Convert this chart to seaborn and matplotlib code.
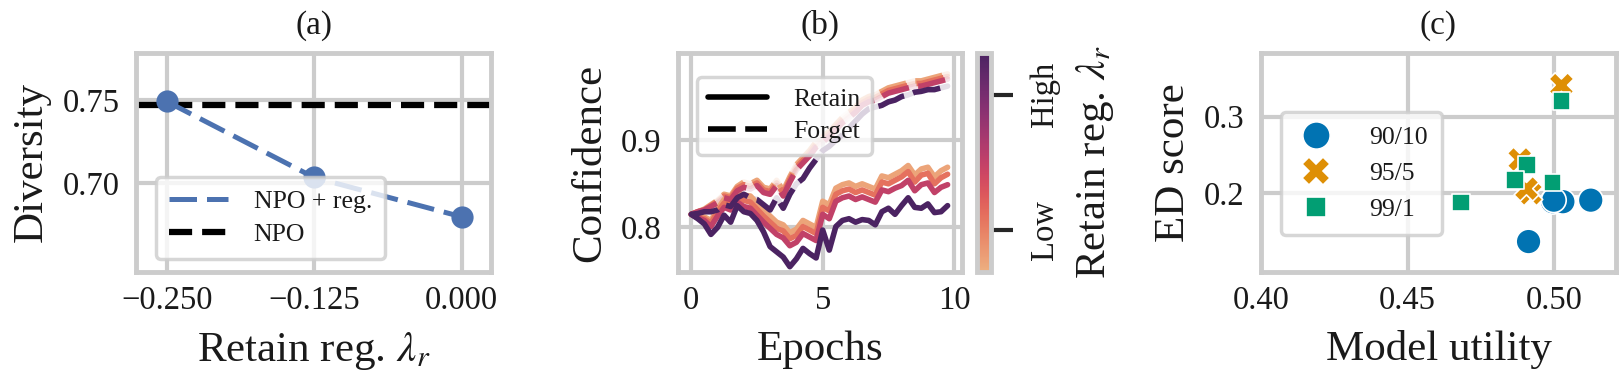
import numpy as np
import pandas as pd
import seaborn as sns
import matplotlib.pyplot as plt
from matplotlib.lines import Line2D
from matplotlib.cm import ScalarMappable
from matplotlib.colors import Normalize

### DATA
# (a) diversity vs retain regularisation
reg_lambda = [-0.250, -0.125, 0.000]
diversity_reg = [0.749, 0.7035, 0.680]
diversity_npo = 0.747

# (b) confidence over epochs, one curve per retain-reg strength
epochs = np.round(np.arange(40) * 0.25, 2)
strength = [0.05, 0.25, 0.5, 1.0]   # low ... high
retain_conf = {
    0.05: [0.815, 0.813, 0.812, 0.808, 0.821, 0.832, 0.831, 0.840, 0.837, 0.836,
           0.828, 0.820, 0.813, 0.806, 0.803, 0.794, 0.798, 0.808, 0.804, 0.800,
           0.830, 0.826, 0.845, 0.849, 0.851, 0.847, 0.850, 0.847, 0.844, 0.859,
           0.857, 0.861, 0.865, 0.871, 0.860, 0.867, 0.869, 0.858, 0.865, 0.869],
    0.25: [0.815, 0.812, 0.810, 0.805, 0.818, 0.828, 0.826, 0.835, 0.831, 0.829,
           0.821, 0.813, 0.806, 0.799, 0.796, 0.787, 0.791, 0.801, 0.797, 0.793,
           0.823, 0.819, 0.838, 0.842, 0.844, 0.840, 0.843, 0.840, 0.837, 0.852,
           0.850, 0.854, 0.858, 0.864, 0.852, 0.860, 0.862, 0.850, 0.857, 0.861],
    0.5:  [0.815, 0.811, 0.808, 0.801, 0.813, 0.823, 0.820, 0.829, 0.824, 0.822,
           0.814, 0.806, 0.799, 0.792, 0.788, 0.779, 0.783, 0.793, 0.789, 0.785,
           0.815, 0.810, 0.830, 0.834, 0.836, 0.832, 0.835, 0.832, 0.829, 0.843,
           0.841, 0.845, 0.848, 0.854, 0.842, 0.849, 0.851, 0.840, 0.846, 0.849],
    1.0:  [0.815, 0.810, 0.804, 0.792, 0.800, 0.814, 0.806, 0.825, 0.818, 0.816,
           0.808, 0.795, 0.778, 0.772, 0.766, 0.755, 0.764, 0.776, 0.770, 0.765,
           0.797, 0.774, 0.801, 0.808, 0.810, 0.806, 0.809, 0.808, 0.803, 0.818,
           0.822, 0.815, 0.825, 0.834, 0.823, 0.822, 0.827, 0.817, 0.818, 0.825],
}
forget_conf = {
    0.05: [0.815, 0.818, 0.821, 0.826, 0.831, 0.838, 0.836, 0.847, 0.852, 0.850,
           0.854, 0.846, 0.844, 0.854, 0.842, 0.858, 0.872, 0.880, 0.888, 0.898,
           0.904, 0.910, 0.918, 0.926, 0.932, 0.938, 0.946, 0.950, 0.952, 0.956,
           0.960, 0.962, 0.964, 0.966, 0.968, 0.968, 0.970, 0.972, 0.974, 0.976],
    0.25: [0.815, 0.818, 0.820, 0.825, 0.830, 0.836, 0.834, 0.845, 0.849, 0.847,
           0.851, 0.843, 0.841, 0.851, 0.839, 0.855, 0.869, 0.877, 0.885, 0.895,
           0.901, 0.907, 0.915, 0.923, 0.929, 0.935, 0.943, 0.947, 0.949, 0.953,
           0.957, 0.959, 0.961, 0.963, 0.965, 0.965, 0.967, 0.969, 0.971, 0.973],
    0.5:  [0.815, 0.818, 0.820, 0.824, 0.828, 0.834, 0.832, 0.842, 0.846, 0.844,
           0.848, 0.840, 0.838, 0.848, 0.836, 0.852, 0.866, 0.874, 0.882, 0.892,
           0.898, 0.904, 0.912, 0.920, 0.926, 0.932, 0.940, 0.944, 0.946, 0.950,
           0.954, 0.956, 0.958, 0.960, 0.962, 0.962, 0.964, 0.966, 0.968, 0.970],
    1.0:  [0.815, 0.816, 0.818, 0.818, 0.820, 0.826, 0.824, 0.834, 0.838, 0.834,
           0.832, 0.826, 0.820, 0.834, 0.822, 0.838, 0.850, 0.856, 0.868, 0.878,
           0.888, 0.893, 0.900, 0.906, 0.914, 0.922, 0.930, 0.936, 0.938, 0.940,
           0.944, 0.946, 0.950, 0.952, 0.955, 0.956, 0.958, 0.958, 0.960, 0.962],
}

# (c) ED score vs model utility per split
split_labels = ['90/10', '95/5', '99/1']
util_9010 = [0.4994, 0.5029, 0.5124, 0.4912, 0.4998]
ed_9010 = [0.189, 0.189, 0.191, 0.137, 0.191]
util_955 = [0.5024, 0.4882, 0.4918, 0.4905]
ed_955 = [0.341, 0.244, 0.200, 0.206]
util_991 = [0.5024, 0.4906, 0.4865, 0.4994, 0.4682]
ed_991 = [0.320, 0.237, 0.217, 0.214, 0.188]

### STYLE
sns.set_theme(style='whitegrid')
plt.rcParams['font.family'] = ['Liberation Serif', 'DejaVu Serif']
plt.rcParams['mathtext.fontset'] = 'stix'
plt.rcParams['axes.edgecolor'] = '.8'
plt.rcParams['axes.linewidth'] = 3.5
plt.rcParams['grid.color'] = '.8'
plt.rcParams['grid.linewidth'] = 3
plt.rcParams['legend.edgecolor'] = '.8'
plt.rcParams['patch.linewidth'] = 2.5
plt.rcParams['xtick.labelsize'] = 23.5
plt.rcParams['ytick.labelsize'] = 23.5
plt.rcParams['xtick.major.pad'] = 10
plt.rcParams['ytick.major.pad'] = 12
plt.rcParams['axes.labelsize'] = 31
plt.rcParams['axes.titlesize'] = 24
plt.rcParams['legend.fontsize'] = 18.5
plt.rcParams['text.color'] = '#1a1a1a'
plt.rcParams['axes.labelcolor'] = '#1a1a1a'
plt.rcParams['xtick.color'] = '#1a1a1a'
plt.rcParams['ytick.color'] = '#1a1a1a'

fig = plt.figure(figsize=(16.21, 3.73), dpi=100)
bottom, height = 0.271, 0.587
ax_a = fig.add_axes([0.0839, bottom, 0.219, height])
ax_b = fig.add_axes([0.4183, bottom, 0.1752, height])
cax = fig.add_axes([0.6027, bottom, 0.0087, height])
ax_c = fig.add_axes([0.7779, bottom, 0.219, height])

### (a)
blue = '#4c72b0'
sns.lineplot(x=reg_lambda, y=diversity_reg, ax=ax_a, color=blue, lw=3.6,
             marker='o', markersize=16, markeredgewidth=0, legend=False, zorder=3)
ax_a.lines[-1].set_dashes((5.5, 2.0))
ax_a.axhline(diversity_npo, color='black', lw=4.5, ls='--', zorder=2)
ax_a.set_xlim(-0.276, 0.025)
ax_a.set_ylim(0.647, 0.778)
ax_a.set_xticks(reg_lambda)
ax_a.set_xticklabels(['\u22120.250', '\u22120.125', '0.000'])
ax_a.set_yticks([0.70, 0.75])
ax_a.set_yticklabels(['0.70', '0.75'])
ax_a.set_xlabel(r'Retain reg. $\lambda_r$', labelpad=10)
ax_a.set_ylabel('Diversity', labelpad=8)
ax_a.set_title('(a)', pad=14)
handles_a = [Line2D([], [], color=blue, lw=3.6, dashes=(5.5, 2.0)),
             Line2D([], [], color='black', lw=4.5, ls='--')]
ax_a.legend(handles_a, ['NPO + reg.', 'NPO'], loc='lower left', bbox_to_anchor=(0.02, 0.0),
            handlelength=2.3, handletextpad=1.0, borderpad=0.5, labelspacing=0.4)

### (b)
rows = []
for s in strength:
    for e, r, f in zip(epochs, retain_conf[s], forget_conf[s]):
        rows.append({'epoch': e, 'conf': r, 'split': 'Retain', 'strength': s})
        rows.append({'epoch': e, 'conf': f, 'split': 'Forget', 'strength': s})
df_b = pd.DataFrame(rows)
forget_df = df_b[df_b['split'] == 'Forget']
sns.lineplot(data=forget_df, x='epoch', y='conf', hue='strength', palette='flare',
             hue_norm=(0, 1), lw=4, alpha=0.15, legend=False, ax=ax_b)
sns.lineplot(data=df_b, x='epoch', y='conf', hue='strength', style='split',
             palette='flare', hue_norm=(0, 1), dashes={'Retain': '', 'Forget': (5, 1.7)},
             lw=4, legend=False, ax=ax_b)
ax_b.set_xlim(-0.5, 10.3)
ax_b.set_ylim(0.749, 1.0)
ax_b.set_xticks([0, 5, 10])
ax_b.set_yticks([0.8, 0.9])
ax_b.set_yticklabels(['0.8', '0.9'])
ax_b.set_xlabel('Epochs', labelpad=10)
ax_b.set_ylabel('Confidence', labelpad=8)
ax_b.set_title('(b)', pad=14)
handles_b = [Line2D([], [], color='black', lw=4, solid_capstyle='round'),
             Line2D([], [], color='black', lw=4, dashes=(5, 1.7))]
ax_b.legend(handles_b, ['Retain', 'Forget'], loc='upper left', bbox_to_anchor=(0.02, 0.95),
            handlelength=2.3, handletextpad=1.0, borderpad=0.45, labelspacing=0.35)

sm = ScalarMappable(norm=Normalize(0, 1), cmap=sns.color_palette('flare', as_cmap=True))
cb = fig.colorbar(sm, cax=cax)
cb.outline.set_edgecolor('.8')
cb.outline.set_linewidth(3.5)
cb.set_ticks([0.19, 0.81])
cb.set_ticklabels(['Low', 'High'])
cax.tick_params(axis='y', right=True, length=16, width=3, color='#262626', pad=12,
                labelsize=23.5)
for t in cax.get_yticklabels():
    t.set_rotation(90)
    t.set_va('center')
cb.set_label(r'Retain reg. $\lambda_r$', labelpad=10)

### (c)
df_c = pd.DataFrame({
    'utility': util_9010 + util_955 + util_991,
    'ed': ed_9010 + ed_955 + ed_991,
    'split': ['90/10'] * len(util_9010) + ['95/5'] * len(util_955) + ['99/1'] * len(util_991),
})
sns.scatterplot(data=df_c, x='utility', y='ed', hue='split', style='split',
                hue_order=split_labels, style_order=split_labels,
                palette='colorblind', s=320, edgecolor='white', linewidth=1.2, ax=ax_c)
ax_c.set_xlim(0.40, 0.521)
ax_c.set_ylim(0.0974, 0.383)
ax_c.set_xticks([0.40, 0.45, 0.50])
ax_c.set_xticklabels(['0.40', '0.45', '0.50'])
ax_c.set_yticks([0.2, 0.3])
ax_c.set_yticklabels(['0.2', '0.3'])
ax_c.set_xlabel('Model utility', labelpad=10)
ax_c.set_ylabel('ED score', labelpad=8)
ax_c.set_title('(c)', pad=14)
ax_c.legend(title=None, loc='lower left', bbox_to_anchor=(0.02, 0.11),
            handlelength=1.6, handletextpad=1.3, borderpad=0.55, labelspacing=0.5,
            markerscale=1.1)

for ax in (ax_a, ax_b, ax_c):
    ax.tick_params(length=0)

fig.savefig('out.png', dpi=100)
